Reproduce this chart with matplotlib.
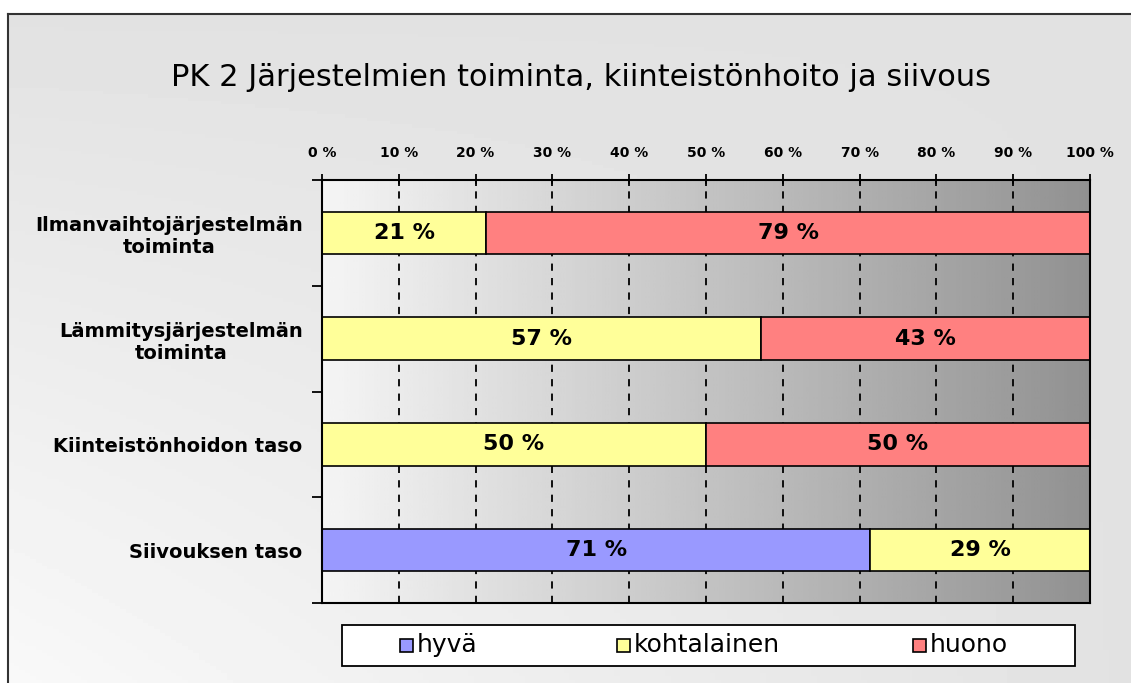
import numpy as np
import matplotlib.pyplot as plt
from matplotlib.patches import Rectangle

# data
categories = ['Ilmanvaihtojärjestelmän\ntoiminta', 'Lämmitysjärjestelmän\ntoiminta',
              'Kiinteistönhoidon taso', 'Siivouksen taso']
series = ['hyvä', 'kohtalainen', 'huono']
hyva = [0, 0, 0, 71.4]
kohtalainen = [21.4, 57.1, 50, 28.6]
huono = [78.6, 42.9, 50, 0]
colors = ['#9999ff', '#ffff99', '#ff8080']
ticks = list(range(0, 101, 10))
title = 'PK 2 Järjestelmien toiminta, kiinteistönhoito ja siivous'

W, H = 1131, 683
fig = plt.figure(figsize=(W / 100, H / 100), dpi=100, facecolor='white')

# outer chart background (gradient, lighter toward bottom-left)
bg = fig.add_axes([8 / W, 0, 1 - 8 / W, 1 - 14 / H], zorder=-10)
gx, gy = np.meshgrid(np.linspace(0, 1, 200), np.linspace(0, 1, 200))
shade = 0.885 + 0.09 * gy * (1 - gx)
bg.imshow(shade, cmap='gray', vmin=0, vmax=1, aspect='auto', origin='upper',
          extent=[0, 1, 0, 1])
bg.set_xlim(0, 1)
bg.set_ylim(0, 1)
bg.set_xticks([])
bg.set_yticks([])
for s in ['right', 'bottom']:
    bg.spines[s].set_visible(False)
for s in ['left', 'top']:
    bg.spines[s].set_linewidth(1.5)
    bg.spines[s].set_color('#333333')

ax = fig.add_axes([322 / W, 80 / H, 768 / W, 423 / H])
y = np.arange(len(categories))

# plot area gradient
grad = np.linspace(0.96, 0.57, 256)[None, :]
ax.imshow(grad, cmap='gray', vmin=0, vmax=1, aspect='auto',
          extent=[0, 100, 3.5, -0.5], zorder=0)

for x in ticks[1:-1]:
    ax.axvline(x, color='black', lw=1.3, ls=(0, (4, 4)), zorder=1)

left = np.zeros(len(categories))
for name, vals, c in zip(series, [hyva, kohtalainen, huono], colors):
    vals = np.array(vals, dtype=float)
    ax.barh(y, vals, left=left, height=0.4, color=c, edgecolor='black',
            linewidth=1.2, label=name, zorder=2)
    for i, v in enumerate(vals):
        if v > 0:
            ax.text(left[i] + v / 2, y[i], f'{round(v)} %', ha='center', va='center',
                    fontsize=16, fontweight='bold', zorder=3)
    left += vals

ax.set_xlim(0, 100)
ax.set_ylim(3.5, -0.5)
ax.xaxis.tick_top()
ax.set_xticks(ticks)
ax.set_xticklabels([f'{t} %' for t in ticks], fontsize=10, fontweight='bold')
ax.tick_params(axis='x', direction='inout', length=9, width=1.3, pad=10)
ax.set_yticks(np.arange(-0.5, 4, 1))
ax.set_yticklabels([])
ax.set_yticks(y, minor=True)
ax.set_yticklabels(categories, minor=True, fontsize=14, fontweight='bold',
                   ha='right', multialignment='center')
ax.tick_params(axis='y', which='major', direction='out', length=7, width=1.3)
ax.tick_params(axis='y', which='minor', length=0, pad=14)
for s in ax.spines.values():
    s.set_linewidth(1.5)

fig.text(581 / W, 1 - 78 / H, title, ha='center', va='center', fontsize=22)

# legend box
fig.patches.append(Rectangle((342 / W, 1 - 666 / H), 733 / W, 41 / H,
                             transform=fig.transFigure, facecolor='white',
                             edgecolor='black', lw=1.3, zorder=5))
lx = [400, 617, 913]
for name, c, px in zip(series, colors, lx):
    fig.patches.append(Rectangle((px / W, 1 - 652 / H), 13 / W, 13 / H,
                                 transform=fig.transFigure, facecolor=c,
                                 edgecolor='black', lw=1.2, zorder=6))
    fig.text((px + 17) / W, 1 - 645 / H, name, ha='left', va='center',
             fontsize=18, zorder=7)

fig.savefig('out.png', dpi=100)
